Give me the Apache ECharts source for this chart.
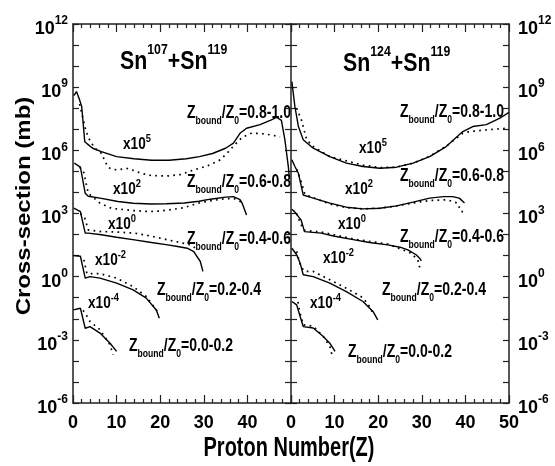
<!DOCTYPE html>
<html>
<head>
<meta charset="utf-8">
<script src="https://cdn.jsdelivr.net/npm/echarts@6/dist/echarts.min.js"></script>
<style>
  html, body { margin: 0; padding: 0; background: #fff; }
  #main { width: 555px; height: 466px; }
</style>
</head>
<body>
<div id="main"></div>
<script>
// points are [Z, log10(cross-section in mb)], already multiplied by the x10^n offsets
// Sn107+Sn119
const sn107_08_solid = [[0.2,8.6],[0.8,8.79],[1.5,8.4],[2.0,8.07],[2.7,6.41],[3.2,6.32],[4.5,6.1],[6.5,5.94],[10,5.7],[14,5.6],[18,5.53],[22,5.53],[26,5.6],[29,5.7],[32,5.85],[35,6.1],[36.8,6.34],[38.3,6.81],[39.8,7.05],[42.9,7.22],[45.5,7.45],[46.7,7.57],[47.8,7.42],[48.6,6.5],[49.4,5.2],[49.6,4.75]];
const sn107_08_dotted = [[1.5,8.2],[2.3,7.5],[3.0,6.9],[3.8,6.5],[5,6.1],[6.5,5.86],[8,5.2],[9,5.1],[10.3,5.07],[12.2,5.15],[13.8,5.05],[15.6,4.91],[18,4.8],[21.5,4.78],[24.7,4.85],[27.7,5.07],[30.7,5.25],[33.8,5.55],[35.5,5.9],[36.8,6.2],[38.8,6.62],[41,6.82],[44,6.78],[47.5,6.65]];
const sn107_06_solid = [[0.3,5.39],[1.7,5.2],[2.8,3.96],[3.5,3.82],[6.2,3.73],[10.3,3.57],[13.8,3.49],[17.9,3.45],[21.4,3.46],[25.5,3.5],[28.9,3.58],[31.5,3.68],[35,3.78],[36.8,3.8],[38.3,3.66],[38.8,3.49],[39.8,2.93]];
const sn107_06_dotted = [[1.5,5.2],[2.4,5.0],[3.5,3.96],[6.2,3.49],[8.8,3.25],[10,3.22],[13.8,3.14],[17.6,3.09],[20.1,3.12],[23,3.2],[25.5,3.28],[28.9,3.5],[31.5,3.6],[34,3.68],[36.8,3.72],[38,3.6],[38.7,3.55]];
const sn107_04_solid = [[0.2,3.25],[1.7,3.09],[2.8,2.07],[3.5,2.07],[6.5,1.99],[10,1.87],[14.1,1.75],[18,1.62],[21.7,1.51],[24,1.43],[26.2,1.35],[27.7,1.19],[29.2,0.72],[29.8,0.25]];
const sn107_04_dotted = [[1.7,3.0],[2.7,2.78],[3.5,2.22],[6.5,2.14],[10,2.12],[14.1,2.07],[18,1.92],[21.7,1.75],[25,1.6],[27,1.51],[28.1,1.35],[28.5,1.2]];
const sn107_02_solid = [[0.1,1.0],[1.7,0.97],[2.8,-0.07],[3.9,0.0],[6.2,-0.07],[10,-0.31],[13.8,-0.63],[16.8,-1.02],[19.1,-1.58],[19.8,-1.97]];
const sn107_02_dotted = [[2.5,0.8],[3.2,0.14],[6.2,0.14],[10,-0.07],[13.8,-0.47],[16.8,-0.94],[19.1,-1.58],[19.5,-1.75]];
const sn107_00_solid = [[0.1,-1.58],[1.7,-1.5],[2.8,-2.45],[3.9,-2.37],[6.2,-2.68],[8.5,-3.16],[10,-3.55]];
const sn107_00_dotted = [[2.3,-1.6],[2.8,-1.73],[3.9,-2.13],[6.2,-2.52],[8.5,-3.24],[9.2,-3.71]];
// Sn124+Sn119
const sn124_08_solid = [[0.2,9.26],[0.9,8.07],[1.7,7.13],[2.8,6.5],[5.1,6.1],[8.9,5.7],[12.7,5.39],[16.5,5.23],[20.4,5.15],[24.2,5.2],[28,5.39],[31.8,5.7],[35.6,6.18],[39.4,6.89],[41.7,7.13],[44.8,7.22],[47.8,7.52],[50,7.8]];
const sn124_08_dotted = [[1.3,8.0],[2.4,7.44],[3.6,6.5],[5.1,6.18],[8.9,5.7],[12.7,5.5],[16.5,5.3],[20.4,5.18],[24.2,5.2],[28,5.39],[31.8,5.72],[35.6,6.2],[39.4,6.81],[40.9,6.89],[44.8,6.97],[49.4,7.05]];
const sn124_06_solid = [[0.2,5.55],[0.9,5.23],[1.7,4.91],[2.8,3.88],[5.1,3.73],[8.9,3.49],[12.7,3.3],[16.5,3.22],[20.4,3.25],[24.2,3.36],[28,3.54],[31.8,3.73],[35,3.8],[37.1,3.8],[38.6,3.73],[39.8,3.5]];
const sn124_06_dotted = [[1.3,5.1],[2.2,4.6],[3.2,3.9],[5.1,3.75],[8.9,3.45],[12.7,3.28],[16.5,3.22],[20.4,3.25],[24.2,3.36],[28,3.5],[31.8,3.62],[35.9,3.65],[38.2,3.49],[39,3.09],[39.8,3.09]];
const sn124_04_solid = [[0.2,3.2],[0.8,3.09],[2.3,2.7],[3.1,2.14],[6.9,2.07],[10,1.92],[14.6,1.75],[18,1.62],[22.2,1.51],[25,1.4],[26.8,1.27],[28.7,1.04],[29.5,0.88],[29.9,0.75]];
const sn124_04_dotted = [[1.3,3.0],[2.2,2.5],[3.1,2.2],[6.9,2.12],[14.6,1.78],[22.2,1.55],[27.5,1.12],[29.1,0.8],[29.4,0.48],[29.9,0.48]];
const sn124_02_solid = [[0.2,1.35],[1.3,1.04],[2.1,0.64],[2.8,0.09],[5.1,0.0],[8.9,-0.31],[12.7,-0.71],[16.5,-1.18],[18.8,-1.65],[19.9,-2.05]];
const sn124_02_dotted = [[1.3,1.2],[2.2,0.5],[3.1,0.25],[5.1,0.25],[8.9,-0.15],[12.7,-0.55],[16.5,-1.0],[18.3,-1.5],[18.8,-1.81]];
const sn124_00_solid = [[0.2,-1.18],[1.3,-1.34],[2.1,-1.89],[2.8,-2.37],[5.1,-2.44],[7.4,-2.84],[8.9,-3.16],[10.1,-3.55]];
const sn124_00_dotted = [[1.6,-1.2],[2.1,-1.75],[2.8,-2.29],[5.1,-2.35],[7.4,-2.84],[8.9,-3.32],[9.6,-3.87]];

const FONT = "'Liberation Sans',Arial,sans-serif";
const AX = '#222';

const chart = echarts.init(document.getElementById('main'), null, { renderer: 'canvas' });

const toVal = arr => arr.map(p => [p[0], Math.pow(10, p[1])]);

function line(data, dotted, panel) {
  return {
    type: 'line',
    xAxisIndex: panel * 2,
    yAxisIndex: panel * 2,
    data: toVal(data),
    symbol: 'none',
    silent: true,
    lineStyle: { color: '#000', width: dotted ? 1.7 : 1.4, type: dotted ? [1.7, 4.3] : 'solid' }
  };
}

// negative lengths point the ticks into the plot
function xAx(grid, pos, labels, hideLast) {
  return {
    type: 'value', gridIndex: grid, position: pos, min: 0, max: 50, interval: 10,
    axisLine: { show: true, onZero: false, lineStyle: { color: AX, width: 1.5 } },
    axisTick: { show: true, length: -8, lineStyle: { color: AX, width: 1.2 } },
    minorTick: { show: true, splitNumber: 5, length: -4, lineStyle: { color: AX, width: 1.2 } },
    splitLine: { show: false },
    axisLabel: {
      show: labels, margin: 11, color: '#000', fontFamily: FONT, fontWeight: 'bold', fontSize: 18,
      formatter: v => (hideLast && v === 50 ? '' : String(v))
    }
  };
}

const supRich = {
  b: { fontFamily: FONT, fontWeight: 'bold', fontSize: 18, color: '#000', lineHeight: 18, padding: [5, 0, 0, 0], verticalAlign: 'top' },
  s: { fontFamily: FONT, fontWeight: 'bold', fontSize: 12, color: '#000', lineHeight: 12, verticalAlign: 'top' }
};

// one tick per decade, labels every third decade
function yAx(grid, pos, labels, line) {
  return {
    type: 'log', logBase: 10, gridIndex: grid, position: pos, min: 1e-6, max: 1e12, interval: 1,
    axisLine: { show: line, onZero: false, lineStyle: { color: AX, width: 1.5 } },
    axisTick: { show: true, length: -6, lineStyle: { color: AX, width: 1.2 } },
    splitLine: { show: false },
    axisLabel: {
      show: labels, margin: pos === 'left' ? 5 : 9,
      formatter: v => {
        const e = Math.round(Math.log10(v));
        return e % 3 === 0 ? '{b|10}{s|' + e + '}' : '';
      },
      rich: supRich
    }
  };
}

// rich text helpers for the annotations (the reference lettering is horizontally condensed)
const sup = (size, ss) => ({
  b: { fontFamily: FONT, fontWeight: 'bold', fontSize: size, fill: '#000', lineHeight: size, padding: [Math.round(size * 0.27), 0, 0, 0], verticalAlign: 'top' },
  s: { fontFamily: FONT, fontWeight: 'bold', fontSize: ss, fill: '#000', lineHeight: ss, verticalAlign: 'top' }
});
const sub = {
  b: { fontFamily: FONT, fontWeight: 'bold', fontSize: 18, fill: '#000', lineHeight: 18, verticalAlign: 'top' },
  u: { fontFamily: FONT, fontWeight: 'bold', fontSize: 11, fill: '#000', lineHeight: 11, padding: [11, 0, 0, 0], verticalAlign: 'top' }
};

function squeezed(x, y, sx, style) {
  return { type: 'group', x: x, y: y, scaleX: sx, silent: true,
    children: [{ type: 'text', x: 0, y: 0, silent: true, style: style }] };
}
function supText(x, yc, base, exp, size, ss, sx) {
  const pad = Math.round(size * 0.27);
  return squeezed(x, yc - pad - size / 2, sx,
    { text: '{b|' + base + '}{s|' + exp + '}', rich: sup(size, ss), align: 'left', verticalAlign: 'top' });
}
function zLabel(x, yc, range) {
  return squeezed(x, yc - 9, 0.78,
    { text: '{b|Z}{u|bound}{b|/Z}{u|0}{b|=' + range + '}', rich: sub, align: 'left', verticalAlign: 'top' });
}
const title = (x, yc, a) => supText(x, yc, 'Sn', a + '}{b|+Sn}{s|119', 26, 15, 0.82);
const xTimes = (x, yc, e) => supText(x, yc, 'x10', e, 16, 11, 0.85);

const option = {
  backgroundColor: '#fff',
  animation: false,
  grid: [
    { left: 73, top: 24, width: 218, height: 379 },
    { left: 291, top: 24, width: 218, height: 379 }
  ],
  xAxis: [
    xAx(0, 'bottom', true, true), xAx(0, 'top', false, true),
    xAx(1, 'bottom', true, false), xAx(1, 'top', false, false)
  ],
  yAxis: [
    yAx(0, 'left', true, true), yAx(0, 'right', false, true),
    yAx(1, 'left', false, false), yAx(1, 'right', true, true)
  ],
  series: [
    line(sn107_08_solid, false, 0), line(sn107_08_dotted, true, 0),
    line(sn107_06_solid, false, 0), line(sn107_06_dotted, true, 0),
    line(sn107_04_solid, false, 0), line(sn107_04_dotted, true, 0),
    line(sn107_02_solid, false, 0), line(sn107_02_dotted, true, 0),
    line(sn107_00_solid, false, 0), line(sn107_00_dotted, true, 0),
    line(sn124_08_solid, false, 1), line(sn124_08_dotted, true, 1),
    line(sn124_06_solid, false, 1), line(sn124_06_dotted, true, 1),
    line(sn124_04_solid, false, 1), line(sn124_04_dotted, true, 1),
    line(sn124_02_solid, false, 1), line(sn124_02_dotted, true, 1),
    line(sn124_00_solid, false, 1), line(sn124_00_dotted, true, 1)
  ],
  graphic: [
    title(120, 62, '107'), title(343, 64, '124'),
    zLabel(187, 113, '0.8-1.0'), zLabel(400, 112, '0.8-1.0'),
    zLabel(187, 182, '0.6-0.8'), zLabel(400, 176, '0.6-0.8'),
    zLabel(187, 239, '0.4-0.6'), zLabel(400, 237, '0.4-0.6'),
    zLabel(157, 290, '0.2-0.4'), zLabel(382, 290, '0.2-0.4'),
    zLabel(129, 346, '0.0-0.2'), zLabel(348, 352, '0.0-0.2'),
    xTimes(123, 145, '5'), xTimes(359, 149, '5'),
    xTimes(113, 190, '2'), xTimes(345, 190, '2'),
    xTimes(108, 225, '0'), xTimes(338, 225, '0'),
    xTimes(95, 261, '-2'), xTimes(323, 259, '-2'),
    xTimes(88, 304, '-4'), xTimes(310, 304, '-4'),
    { type: 'text', x: 24, y: 206, rotation: Math.PI / 2, scaleY: 0.88, silent: true,
      style: { text: 'Cross-section (mb)', fontFamily: FONT, fontWeight: 'bold', fontSize: 24, fill: '#000', align: 'center', verticalAlign: 'middle' } },
    { type: 'text', x: 289, y: 449, scaleX: 0.74, silent: true,
      style: { text: 'Proton Number(Z)', fontFamily: FONT, fontWeight: 'bold', fontSize: 27, fill: '#000', align: 'center', verticalAlign: 'middle' } }
  ]
};

chart.setOption(option);
</script>
</body>
</html>
